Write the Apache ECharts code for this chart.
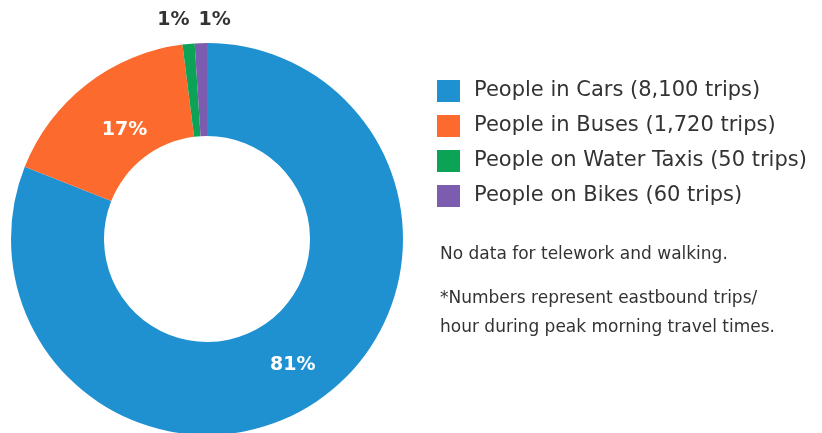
<!DOCTYPE html>
<html>
<head>
<meta charset="utf-8">
<script src="https://cdn.jsdelivr.net/npm/echarts@6/dist/echarts.min.js"></script>
<style>
html,body{margin:0;padding:0;background:#fff;}
#chart{width:822px;height:433px;}
</style>
</head>
<body>
<div id="chart"></div>
<script>
const categories = [
  'People in Cars (8,100 trips)',
  'People in Buses (1,720 trips)',
  'People on Water Taxis (50 trips)',
  'People on Bikes (60 trips)'
];
const shares = [81, 17, 1, 1];
const colors = ['#1f91d0', '#fc6b2d', '#0ca356', '#7b5cae'];
const notes = [
  'No data for telework and walking.',
  '*Numbers represent eastbound trips/\nhour during peak morning travel times.'
];

const FONT = '"DejaVu Sans", sans-serif';
const chart = echarts.init(document.getElementById('chart'), null, {renderer: 'canvas'});

const insideLabel = (dx, dy) => ({
  show: true, position: 'inside', formatter: '{c}%',
  color: '#fff', fontWeight: 'bold', fontSize: 19, fontFamily: FONT,
  offset: [dx, dy]
});
const outsideLabel = (dx, dy) => ({
  show: true, position: 'outside', formatter: '{c}%',
  color: '#333', fontWeight: 'bold', fontSize: 19, fontFamily: FONT,
  offset: [dx, dy]
});
const labelFor = [insideLabel(0, 0), insideLabel(11, 12), outsideLabel(6, -24), outsideLabel(35, -23)];

const data = categories.map((name, i) => ({
  name: name,
  value: shares[i],
  itemStyle: {color: colors[i]},
  label: labelFor[i],
  labelLine: {show: false, length: 0, length2: 0}
}));

chart.setOption({
  animation: false,
  textStyle: {fontFamily: FONT},
  title: [
    {text: notes[0], left: 435, top: 241,
     textStyle: {fontSize: 17, fontWeight: 'normal', color: '#333', fontFamily: FONT}},
    {text: notes[1], left: 435, top: 279,
     textStyle: {fontSize: 17, fontWeight: 'normal', color: '#333', lineHeight: 29, fontFamily: FONT}}
  ],
  legend: {
    orient: 'vertical',
    left: 432, top: 75,
    itemWidth: 23, itemHeight: 22, itemGap: 13,
    icon: 'rect',
    textStyle: {fontSize: 21, color: '#333', fontFamily: FONT, padding: [0, 0, 0, 9]},
    data: categories
  },
  series: [{
    type: 'pie',
    center: [207, 239],
    radius: [103, 196],
    startAngle: 90,
    clockwise: true,
    avoidLabelOverlap: false,
    label: {show: true},
    emphasis: {disabled: true},
    data: data
  }]
});
</script>
</body>
</html>
